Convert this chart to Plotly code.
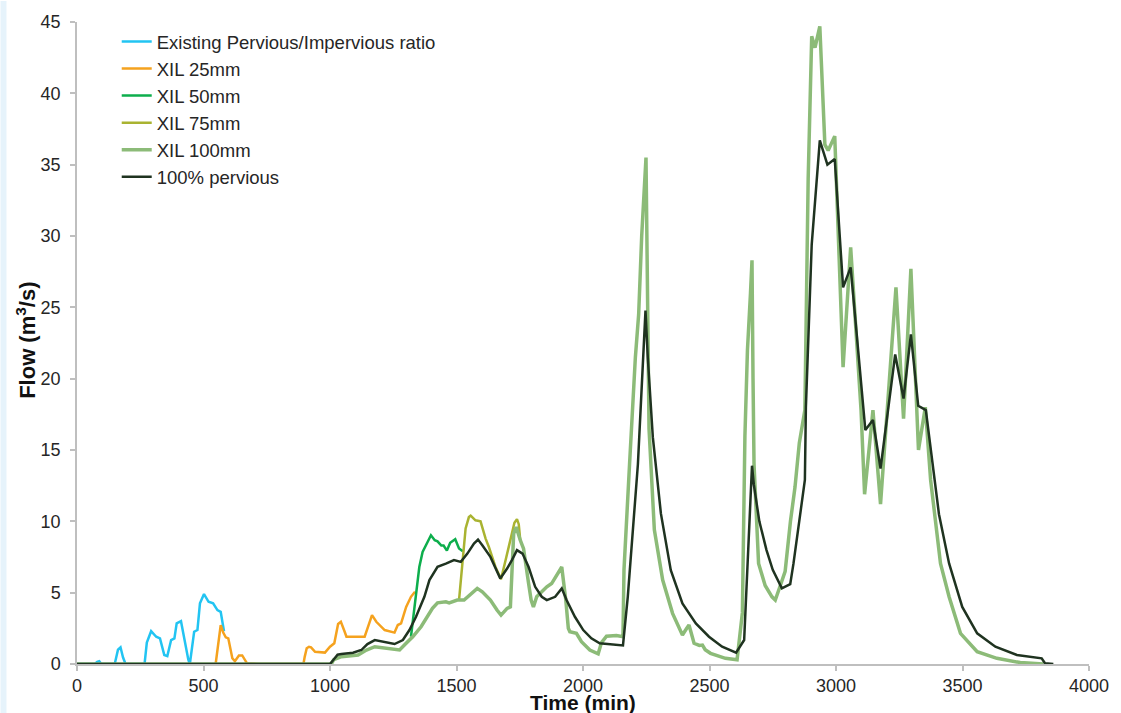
import plotly.graph_objects as go

# ---------------- data ----------------
existing_t = [0, 70, 80, 88, 96, 149, 162, 172, 182, 192, 267, 276, 293, 313, 328, 345, 357, 372, 385,
              394, 411, 424, 440, 446, 452, 463, 476, 486, 502, 520, 538, 555, 568, 581]
existing_v = [0, 0, 0.15, 0.2, 0, 0, 1.0, 1.17, 0.45, 0, 0, 1.5, 2.3, 1.91, 1.8, 0.63, 0.55, 1.68, 1.8,
              2.85, 3.0, 1.68, 0.3, 0, 0.8, 2.26, 2.38, 4.25, 4.9, 4.36, 4.25, 3.78, 3.66, 2.3]

xil25_t = [548, 558, 568, 578, 588, 598, 614, 624, 634, 640, 653, 662, 672, 718, 895, 900, 908, 917, 925,
           941, 980, 1000, 1017, 1032, 1043, 1058, 1065, 1137, 1150, 1166, 1183, 1216, 1255, 1268, 1281,
           1301, 1320, 1336]
xil25_v = [0, 1.5, 2.73, 2.2, 1.87, 1.8, 0.4, 0.2, 0.5, 0.6, 0.6, 0.3, 0.05, 0, 0, 0.5, 1.1, 1.21, 1.17,
           0.86, 0.8, 1.21, 1.45, 2.8, 2.96, 2.26, 1.91, 1.91, 2.61, 3.43, 2.96, 2.38, 2.2, 2.73, 2.84,
           4.0, 4.71, 5.06]

xil50_t = [1320, 1335, 1353, 1366, 1380, 1399, 1414, 1425, 1440, 1449, 1462, 1475, 1495, 1510, 1525]
xil50_v = [1.91, 4.0, 6.8, 7.86, 8.4, 9.02, 8.68, 8.6, 8.3, 8.3, 7.95, 8.5, 8.75, 8.1, 7.9]

xil75_t = [1510, 1518, 1527, 1536, 1549, 1556, 1575, 1595, 1615, 1628, 1654, 1676, 1693, 1706, 1713,
           1729, 1739, 1746, 1752]
xil75_v = [4.48, 6.0, 7.98, 9.5, 10.3, 10.4, 10.07, 10.0, 8.79, 8.2, 6.8, 5.95, 7.2, 8.2, 8.9,
           9.9, 10.15, 9.8, 8.68]

xil100_t = [0, 1005, 1015, 1045, 1111, 1144, 1177, 1229, 1275, 1301, 1327, 1360, 1383, 1405, 1425, 1458,
            1471, 1503, 1530, 1562, 1582, 1602, 1634, 1660, 1676, 1700, 1713, 1726, 1736, 1752, 1765,
            1785, 1795, 1804, 1817, 1844, 1857, 1876, 1895, 1909, 1916, 1932, 1942, 1948, 1974, 1994,
            2027, 2060, 2073, 2093, 2132, 2158, 2162, 2184, 2207, 2220, 2232, 2249, 2254, 2261, 2282,
            2315, 2354, 2393, 2410, 2419, 2439, 2460, 2472, 2483, 2504, 2563, 2609, 2622, 2630, 2640,
            2650, 2662, 2668, 2672, 2676, 2694, 2720, 2747, 2760, 2780, 2799, 2820, 2838, 2855, 2877,
            2890, 2904, 2917, 2936, 2956, 2969, 2995, 3028, 3058, 3099, 3113, 3146, 3176, 3237, 3267,
            3296, 3326, 3353, 3374, 3413, 3447, 3492, 3558, 3636, 3728, 3820]
xil100_v = [0, 0, 0.3, 0.51, 0.63, 0.98, 1.21, 1.1, 0.98, 1.45, 1.91, 2.61, 3.31, 3.9, 4.29, 4.36,
            4.29, 4.48, 4.48, 4.94, 5.3, 5.06, 4.48, 3.78, 3.43, 3.9, 4.0, 9.14, 9.6, 8.68, 8.09,
            5.64, 4.48, 4.0, 4.71, 5.18, 5.41, 5.64, 6.2, 6.69, 6.8, 4.48, 2.5, 2.26, 2.15, 1.56,
            0.98, 0.72, 1.5, 1.95, 2.0, 1.91, 6.6, 14.0, 21.5, 24.5, 30.0, 35.5, 28.0, 16.5, 9.4,
            5.88, 3.55, 2.03, 2.5, 2.73, 1.45, 1.3, 1.33, 1.0, 0.75, 0.4, 0.3, 2.4, 3.6, 16.0,
            22.0, 26.0, 28.3, 20.0, 14.0, 7.05, 5.5, 4.71, 4.48, 5.5, 6.5, 10.0, 12.4, 15.5, 17.8,
            34.0, 44.0, 43.2, 44.7, 36.4, 36.0, 37.0, 20.8, 29.2, 17.8, 11.9, 17.8, 11.2, 26.4, 17.2,
            27.7, 15.0, 18.0, 12.9, 7.05, 4.71, 2.15, 0.86, 0.4, 0.1, 0]

perv_t = [0, 1000, 1013, 1030, 1045, 1091, 1124, 1148, 1177, 1216, 1255, 1288, 1314, 1340, 1373, 1393,
          1425, 1458, 1490, 1517, 1543, 1569, 1585, 1602, 1634, 1673, 1700, 1719, 1739, 1761, 1785,
          1811, 1837, 1857, 1890, 1916, 1935, 1968, 2001, 2033, 2066, 2158, 2177, 2217, 2247, 2256,
          2276, 2308, 2347, 2393, 2446, 2498, 2550, 2605, 2637, 2668, 2675, 2697, 2725, 2750, 2770,
          2786, 2819, 2832, 2877, 2881, 2904, 2936, 2966, 2995, 3028, 3058, 3089, 3116, 3146, 3176,
          3234, 3267, 3296, 3325, 3355, 3381, 3407, 3447, 3499, 3558, 3630, 3715, 3813, 3826, 3859]
perv_v = [0, 0, 0.28, 0.65, 0.7, 0.79, 0.98, 1.4, 1.68, 1.56, 1.4, 1.68, 2.38, 3.31, 4.71, 5.88,
          6.81, 7.04, 7.28, 7.16, 7.74, 8.44, 8.72, 8.32, 7.51, 5.99, 6.69, 7.28, 7.98, 7.74, 6.8,
          5.41, 4.71, 4.48, 4.71, 5.3, 4.48, 3.31, 2.38, 1.8, 1.45, 1.3, 4.71, 14.0, 24.77, 21.5,
          15.9, 10.54, 6.58, 4.25, 2.85, 1.91, 1.21, 0.79, 1.68, 13.9, 12.6, 10.0, 8.0, 6.6, 5.9,
          5.3, 5.6, 7.05, 12.9, 18.0, 29.4, 36.7, 35.0, 35.4, 26.4, 27.8, 21.7, 16.4, 17.1, 13.7,
          21.7, 18.6, 23.1, 18.1, 17.8, 14.0, 10.5, 7.05, 4.0, 2.15, 1.21, 0.63, 0.4, 0.05, 0]

series = [
    ("Existing Pervious/Impervious ratio", existing_t, existing_v, "#22C4F2", 2.5),
    ("XIL 25mm", xil25_t, xil25_v, "#F5A21E", 2.5),
    ("XIL 50mm", xil50_t, xil50_v, "#0DAE4C", 2.5),
    ("XIL 75mm", xil75_t, xil75_v, "#A9B331", 2.5),
    ("XIL 100mm", xil100_t, xil100_v, "#8CBB78", 3.5),
    ("100% pervious", perv_t, perv_v, "#1F3320", 2.5),
]

x_ticks = [0, 500, 1000, 1500, 2000, 2500, 3000, 3500, 4000]
y_ticks = [0, 5, 10, 15, 20, 25, 30, 35, 40, 45]

FONT = "Liberation Sans, Arial, sans-serif"
W, H = 1121, 713
ML, MR, MT, MB = 77, 25, 21, 49
PW, PH = W - ML - MR, H - MT - MB

fig = go.Figure()
for i, (name, t, v, col, w) in enumerate(series):
    fig.add_trace(go.Scatter(x=t, y=v, mode="lines", name=name, legendgroup=f"g{i}",
                             line=dict(color=col, width=w), hoverinfo="x+y+name"))

axis_col = "#BFBFBF"
fig.update_layout(
    width=W, height=H,
    margin=dict(l=ML, r=MR, t=MT, b=MB, pad=0),
    paper_bgcolor="white", plot_bgcolor="white",
    font=dict(family=FONT, size=18, color="#262626"),
    showlegend=True,
    legend=dict(x=(117 - ML) / PW, xanchor="left", y=(H - MB - 22) / PH, yanchor="top",
                bgcolor="rgba(0,0,0,0)", borderwidth=0, tracegroupgap=0,
                font=dict(family=FONT, size=18.5, color="#262626")),
    xaxis=dict(range=[0, 4000], tickvals=x_ticks, ticktext=[str(x) for x in x_ticks],
               showgrid=False, zeroline=False, showline=True, linecolor=axis_col, linewidth=1.5,
               ticks="outside", ticklen=5, tickcolor=axis_col, tickwidth=1.5,
               tickfont=dict(family=FONT, size=18, color="#262626")),
    yaxis=dict(range=[0, 45], tickvals=y_ticks, ticktext=[str(y) for y in y_ticks],
               showgrid=False, zeroline=False, showline=True, linecolor=axis_col, linewidth=1.5,
               ticks="outside", ticklen=5, tickcolor=axis_col, tickwidth=1.5,
               ticklabelstandoff=6,
               tickfont=dict(family=FONT, size=18, color="#262626")),
    annotations=[
        dict(text="<b>Time (min)</b>", xref="paper", yref="paper", x=(586 - ML) / PW,
             y=(H - MB - 703) / PH, xanchor="center", yanchor="middle", showarrow=False,
             font=dict(family=FONT, size=21, color="#111111")),
        dict(text="<b>Flow (m<sup>3</sup>/s)</b>", xref="paper", yref="paper", x=(25 - ML) / PW,
             y=(H - MB - 340) / PH, xanchor="center", yanchor="middle", showarrow=False,
             textangle=-90, font=dict(family=FONT, size=22, color="#111111")),
    ],
    shapes=[dict(type="rect", xref="paper", yref="paper", x0=(0 - ML) / PW, x1=(6 - ML) / PW,
                 y0=(H - MB - H) / PH, y1=(H - MB) / PH, fillcolor="#E6F3FB", line=dict(width=0),
                 layer="below")],
)

fig.write_html("out.html")
